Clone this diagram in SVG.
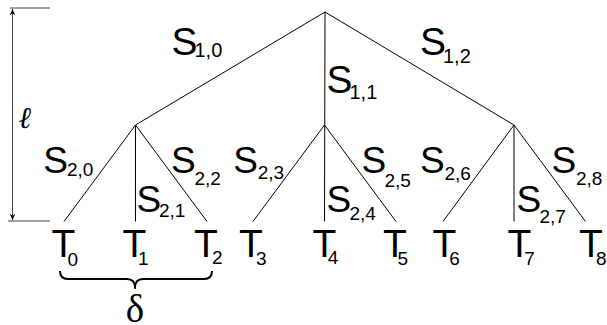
<svg xmlns="http://www.w3.org/2000/svg" width="607" height="325" viewBox="0 0 607 325">
<defs>
<style>
.ln{stroke:#000;stroke-width:1;fill:none}
.L1{font-family:"Liberation Sans",Arial,sans-serif;font-size:39px;fill:#000}
.L2{font-family:"Liberation Sans",Arial,sans-serif;font-size:37px;fill:#000}
.T{font-family:"Liberation Sans",Arial,sans-serif;font-size:39px;fill:#000}
.s1{font-size:20px}
.s2{font-size:19px}
.dim{stroke:#808080;stroke-width:1.3;fill:none}
.brace{stroke:#000;stroke-width:2;fill:none;stroke-linejoin:round}
</style>
<marker id="ah" viewBox="0 0 10 16" refX="10" refY="8" markerWidth="16" markerHeight="10" markerUnits="userSpaceOnUse" orient="auto-start-reverse">
<path d="M0,3.5 L10,8 L0,12.5 L3,8 Z" fill="#000"/>
</marker>
</defs>
<rect width="607" height="325" fill="#fff"/>
<g id="connectors">
<path class="ln" d="M325,12 L135.5,125 M325,12 L324.5,221.5 M325,12 L514,125"/>
<path class="ln" d="M135.5,125 L64,221.5 M135.5,125 L135.5,221.5 M135.5,125 L207,221.5"/>
<path class="ln" d="M324.5,125 L253,221.5 M324.5,125 L396,221.5"/>
<path class="ln" d="M514,125 L443,221.5 M514,125 L514,221.5 M514,125 L585.5,221.5"/>
</g>
<g id="edge-labels">
<text class="L1" x="171.5" y="54.5">S<tspan class="s1" x="194.5" y="57">1,0</tspan></text>
<text class="L1" x="326.5" y="93">S<tspan class="s1" x="349.5" y="98.5">1,1</tspan></text>
<text class="L1" x="420" y="55">S<tspan class="s1" x="443" y="62.5">1,2</tspan></text>
<text class="L2" x="43.3" y="173">S<tspan class="s2" x="67" y="176">2,0</tspan></text>
<text class="L2" x="136.6" y="211.5">S<tspan class="s2" x="159" y="217">2,1</tspan></text>
<text class="L2" x="171" y="173">S<tspan class="s2" x="194.5" y="185">2,2</tspan></text>
<text class="L2" x="233.3" y="173">S<tspan class="s2" x="257.7" y="178.6">2,3</tspan></text>
<text class="L2" x="326.6" y="211.5">S<tspan class="s2" x="349.4" y="220">2,4</tspan></text>
<text class="L2" x="361.6" y="173">S<tspan class="s2" x="384.4" y="186.5">2,5</tspan></text>
<text class="L2" x="420" y="173">S<tspan class="s2" x="444.4" y="180.3">2,6</tspan></text>
<text class="L2" x="516.6" y="211.5">S<tspan class="s2" x="539.4" y="223">2,7</tspan></text>
<text class="L2" x="551.6" y="173">S<tspan class="s2" x="576" y="185">2,8</tspan></text>
</g>
<g id="T0"><text class="T" x="51.4" y="256.5">T<tspan class="s2" x="67.5" y="266">0</tspan></text></g>
<g id="T1"><text class="T" x="122.5" y="256.5">T<tspan class="s2" x="138" y="265">1</tspan></text></g>
<g id="T2"><text class="T" x="194" y="256.5">T<tspan class="s2" x="212" y="263.5">2</tspan></text></g>
<g id="T3"><text class="T" x="239" y="256.5">T<tspan class="s2" x="256" y="265">3</tspan></text></g>
<g id="T4"><text class="T" x="312.5" y="256.5">T<tspan class="s2" x="327.8" y="263.5">4</tspan></text></g>
<g id="T5"><text class="T" x="383" y="256.5">T<tspan class="s2" x="397.6" y="265">5</tspan></text></g>
<g id="T6"><text class="T" x="432.5" y="256.5">T<tspan class="s2" x="449.3" y="265">6</tspan></text></g>
<g id="T7"><text class="T" x="507.5" y="256.5">T<tspan class="s2" x="524.3" y="265">7</tspan></text></g>
<g id="T8"><text class="T" x="579" y="256.5">T<tspan class="s2" x="596" y="265">8</tspan></text></g>
<g id="height-dimension">
<path class="dim" d="M10,8 H50 M8,221 H50"/>
<path d="M12.5,9 V220" stroke="#444" stroke-width="1" marker-start="url(#ah)" marker-end="url(#ah)"/>
<text x="18.5" y="128" font-family="DejaVu Serif,serif" font-style="italic" font-size="30" fill="#000">ℓ</text>
</g>
<g id="delta-brace">
<path class="brace" d="M60,271 q0,8 8,8 h59 q8,0 8,9 q0,-9 8,-9 h61 q8,0 8,-8"/>
<text x="135" y="321.5" text-anchor="middle" font-family="Liberation Serif,serif" font-size="39" fill="#000">δ</text>
</g>
</svg>
